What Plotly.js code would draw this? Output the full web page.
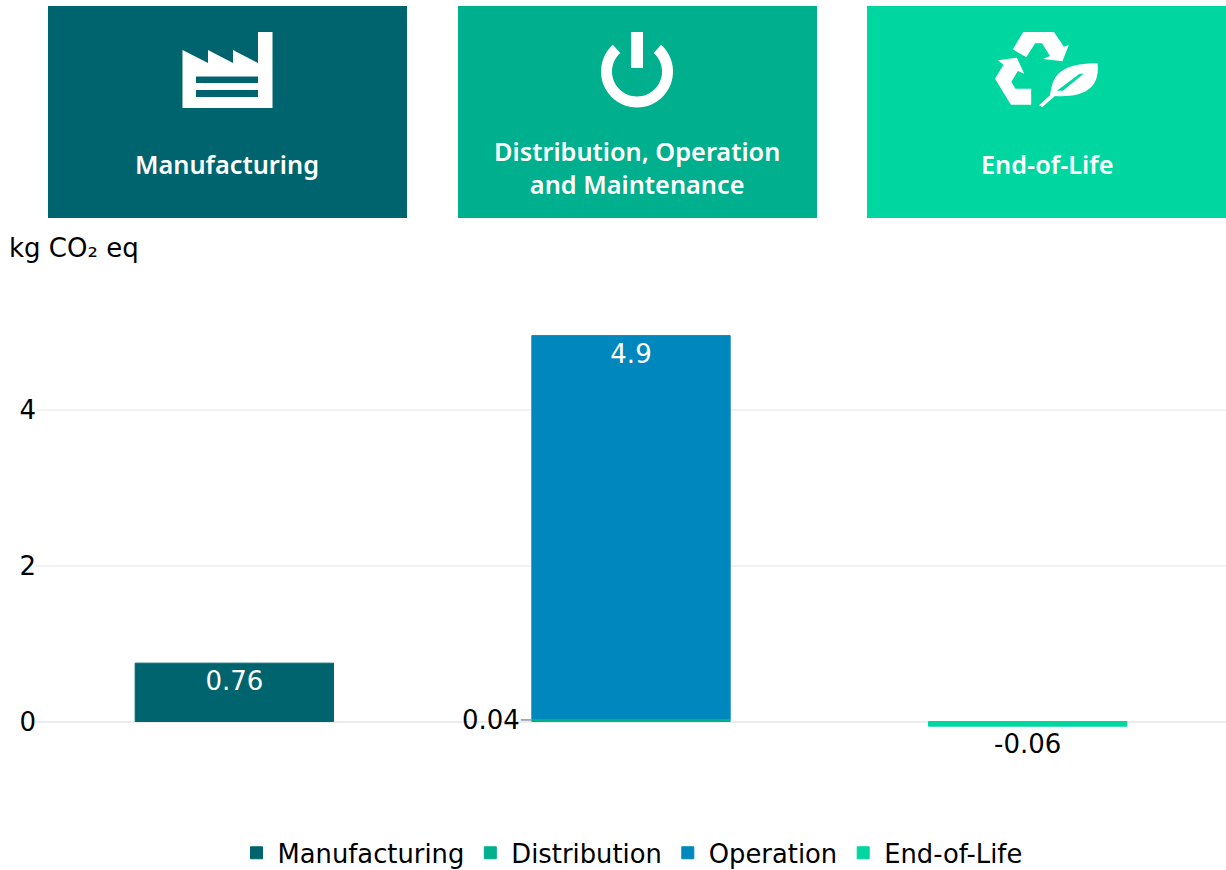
<!DOCTYPE html>
<html><head><meta charset="utf-8">
<script src="https://cdn.plot.ly/plotly-3.0.1.min.js"></script>
<style>html,body{margin:0;padding:0;background:#fff}#c{width:1226px;height:870px}</style></head>
<body><div id="c"></div>
<script>
const W=1226,H=870;
const categories=['Manufacturing','Distribution, Operation and Maintenance','End-of-Life'];
const seriesNames=['Manufacturing','Distribution','Operation','End-of-Life'];
const manufacturing=[0.75,null,null];
const distribution=[null,0.04,null];
const operation=[null,4.92,null];
const endOfLife=[null,null,-0.06];
const operationLabels=['','4.9',''];
const manufacturingLabels=['0.76','',''];
const endOfLifeLabels=['','','-0.06'];
const colors=['#00646e','#00af8e','#0087be','#00d7a0'];
const headerTitles=['Manufacturing','Distribution, Operation<br>and Maintenance','End-of-Life'];
const yTicks=[0,2,4];

const F='"DejaVu Sans", sans-serif', HF='"Noto Sans", sans-serif';
const px=x=>x/W, py=y=>1-y/H;
const poly=(pts,close=true)=>pts.map((p,i)=>(i?'L':'M')+px(p[0]).toFixed(5)+','+py(p[1]).toFixed(5)).join(' ')+(close?' Z':'');
const rect=(x0,y0,x1,y1,fill)=>({type:'rect',xref:'paper',yref:'paper',x0:px(x0),x1:px(x1),y0:py(y0),y1:py(y1),fillcolor:fill,line:{width:0},layer:'above'});
const pathShape=(d,fill)=>({type:'path',xref:'paper',yref:'paper',path:d,fillcolor:fill,line:{width:0},layer:'above'});
const z=(pts)=>pts.map(p=>[450+p[0]/2.02,p[1]/3]);

const shapes=[
  rect(48,6,407,218,colors[0]),rect(458,6,817,218,colors[1]),rect(867,6,1226,218,colors[3]),
  pathShape(poly([[182.5,50],[208,63],[208,50],[233,63],[233,50],[258,63],[258,32],[272.5,32],[272.5,108],[182.5,108]]),'#fff'),
  rect(196,76.5,258,83,colors[0]),rect(196,90,258,97,colors[0]),
  rect(631,32,643,68,'#fff')
];
(function(){
  const cx=637,cy=71.5,R=36,r=25,pts=[],a0=-48,a1=228;
  for(let i=0;i<=48;i++){const a=(a0+(a1-a0)*i/48)*Math.PI/180;pts.push([cx+R*Math.cos(a),cy+R*Math.sin(a)]);}
  for(let i=48;i>=0;i--){const a=(a0+(a1-a0)*i/48)*Math.PI/180;pts.push([cx+r*Math.cos(a),cy+r*Math.sin(a)]);}
  shapes.push(pathShape(poly(pts),'#fff'));
})();
shapes.push(pathShape(poly(z([[1158,96],[1220,96],[1240,140],[1250,135],[1237,184],[1198,177],[1212,168],[1196,130],[1182,130],[1164,172],[1137,148]])),'#fff'));
shapes.push(pathShape(poly(z([[1107,181],[1145,173],[1160,221],[1147,213],[1134,245],[1142,266],[1174,266],[1174,314],[1133,314],[1101,236],[1118,194]])),'#fff'));
const q=(a,b)=>{const p=z([[a,b]])[0];return px(p[0]).toFixed(5)+','+py(p[1]).toFixed(5)};
shapes.push(pathShape('M'+q(1190,316)+' L'+q(1212,286)+' C'+q(1218,250)+' '+q(1215,190)+' '+q(1308,190)+' C'+q(1315,280)+' '+q(1265,292)+' '+q(1222,288)+' L'+q(1196,322)+' Z','#fff'));
shapes.push(pathShape(poly(z([[1272,221],[1280,221],[1238,272],[1226,272]])),colors[3]));
shapes.push({type:'line',xref:'x',yref:'y',x0:0.722,x1:0.75,y0:distribution[1]/2,y1:distribution[1]/2,line:{color:'#8a94a6',width:1.5},layer:'above'});

const mk=(i,y,text,tp,tc)=>({type:'bar',name:seriesNames[i],x:categories,y:y,text:text,textposition:tp,
  insidetextanchor:'end',constraintext:'none',cliponaxis:false,textangle:0,
  textfont:{family:F,size:26,color:tc},marker:{color:colors[i],line:{width:1,color:colors[i]}},hoverinfo:'name+y'});
const traces=[
  mk(0,manufacturing,manufacturingLabels,'inside','#fff'),
  mk(1,distribution,['','',''],'none','#fff'),
  mk(2,operation,operationLabels,'inside','#fff'),
  mk(3,endOfLife,endOfLifeLabels,'outside','#000')
];
const ann=(x,y,t,col,fam,size,w,xa)=>({xref:'paper',yref:'paper',x:px(x),y:py(y),text:t,showarrow:false,xanchor:xa||'center',yanchor:'middle',align:'center',font:{family:fam,size:size,color:col,weight:w||400}});
const annotations=[
  ann(227,164,headerTitles[0],'#fff',HF,25.3,600),
  ann(637,167.5,headerTitles[1],'#fff',HF,25.3,600),
  ann(1046.5,164,headerTitles[2],'#fff',HF,25.3,600),
  ann(7,248,'kg CO₂ eq','#000',F,26,400,'left'),
  {xref:'x',yref:'y',x:0.7245,y:distribution[1]/2,text:String(distribution[1]),showarrow:false,xanchor:'right',yanchor:'middle',font:{family:F,size:26,color:'#000'}}
];
const yTop=300,yBottom=790,unit=77.8,zero=721.5;
Plotly.newPlot('c',traces,{
  width:W,height:H,margin:{l:0,r:0,t:0,b:0,pad:0,autoexpand:false},paper_bgcolor:'#fff',plot_bgcolor:'#fff',
  font:{family:F,size:26,color:'#000'},
  barmode:'relative',bargap:0.5,
  xaxis:{domain:[36/W,1],type:'category',showticklabels:false,ticks:'',showgrid:false,zeroline:false,showline:false,fixedrange:true},
  yaxis:{domain:[1-yBottom/H,1-yTop/H],range:[(zero-yBottom)/unit,(zero-yTop)/unit],tickmode:'array',tickvals:yTicks,ticktext:yTicks.map(String),
    showgrid:true,gridcolor:'#f2f2f2',gridwidth:2,zeroline:true,zerolinecolor:'#ebebeb',zerolinewidth:2,showline:false,ticks:'',ticklabelstandoff:-1,
    tickfont:{family:F,size:26,color:'#000'},fixedrange:true,automargin:false},
  showlegend:true,
  legend:{orientation:'h',x:631.5/W,xanchor:'center',y:py(853),yanchor:'middle',itemwidth:32,font:{family:F,size:25.8,color:'#000'},traceorder:'normal',bgcolor:'rgba(0,0,0,0)'},
  shapes:shapes,annotations:annotations
},{displayModeBar:false,responsive:false});
</script></body></html>
